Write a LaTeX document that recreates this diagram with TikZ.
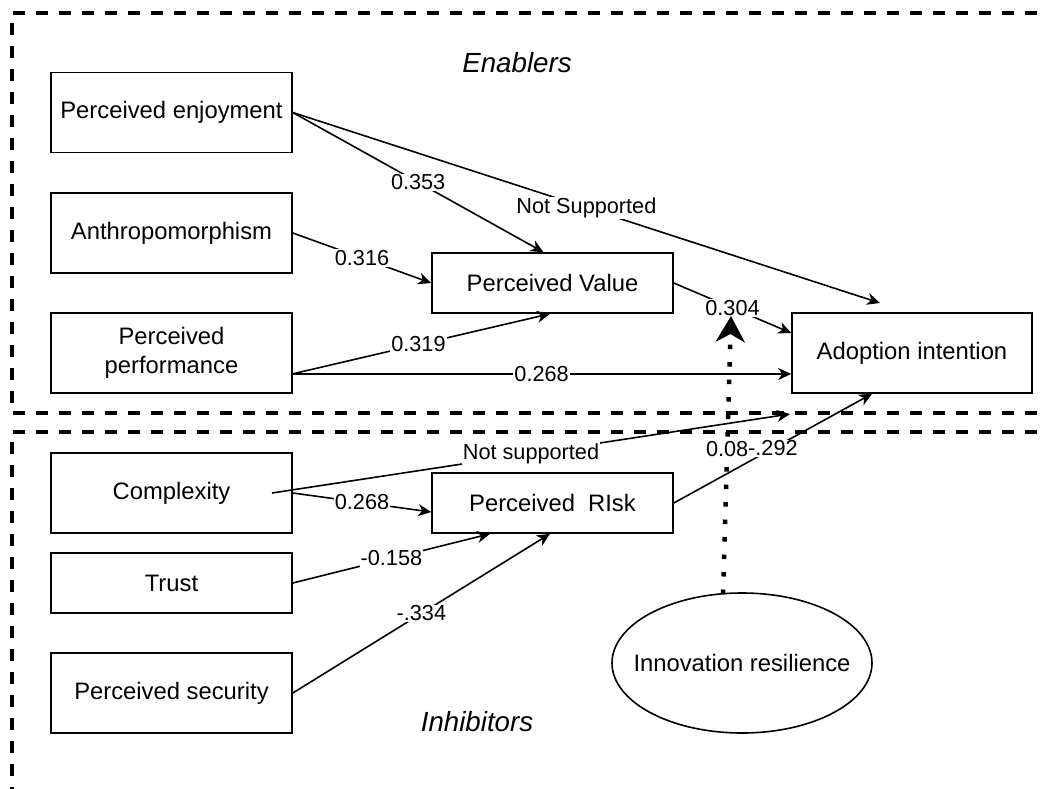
\documentclass[tikz,border=0pt]{standalone}
\usepackage{fontspec}
\setmainfont{Liberation Sans}
\usetikzlibrary{arrows.meta,shapes.geometric,calc}
\begin{document}
\begin{tikzpicture}[x=1pt,y=-1pt,
  construct/.style={draw, line width=1.6pt, minimum width=241pt, minimum height=80pt,
    inner sep=0pt, align=center, font=\fontsize{23.8}{29}\selectfont},
  mediator/.style={construct, minimum height=60pt},
  moderator/.style={ellipse, draw, line width=1.6pt, minimum width=260pt, minimum height=140pt,
    inner sep=0pt, font=\fontsize{23.8}{29}\selectfont},
  link/.style={line width=1.6pt, -{Stealth[length=13pt,width=12pt,inset=4pt]}},
  modlink/.style={line width=4.5pt, dash pattern=on 4.5pt off 13pt,
    -{Stealth[length=26pt,width=29pt,inset=8pt]}},
  wlabel/.style={fill=white, inner sep=1pt, font=\fontsize{21.7}{26}\selectfont},
  frame/.style={line width=3.5pt, dash pattern=on 12pt off 11pt},
  group/.style={font=\fontsize{27.7}{32}\selectfont\itshape}
]
\useasboundingbox (0,0) rectangle (1042,788);

% group frames
\begin{scope}
  \clip (0,0) rectangle (1042,788);
  \draw[frame] (1060,13) -- (12,13) -- (12,413) -- (1060,413);
  \draw[frame] (1060,432) -- (12,432) -- (12,800);
\end{scope}

\node[group] (enab) at (517,63) {Enablers};
\node[group] (inhib) at (477,722) {Inhibitors};

% constructs
\node[construct] (pe) at (171.5,112.5) {Perceived enjoyment};
\node[construct] (an) at (171.5,233) {Anthropomorphism};
\node[construct] (pp) at (171.5,353) {Perceived\\performance};
\node[construct] (cx) at (171.5,493) {Complexity};
\node[construct, minimum height=60pt] (tr) at (171.5,583) {Trust};
\node[construct] (ps) at (171.5,693) {Perceived security};

\node[mediator] (pv) at (552.5,283) {Perceived Value};
\node[mediator] (pr) at (552.5,503) {Perceived\ \ RIsk};
\node[construct, minimum width=240pt] (ai) at (912,353) {Adoption intention};
\node[moderator] (ir) at (742,663) {\makebox[0pt]{Innovation resilience}};

% free ends
\coordinate (aiTop) at (880,303);
\coordinate (ppOut) at (292,374);
\coordinate (cxIn) at (272,493);
\coordinate (aiLow) at (790,414);
\coordinate (irTop) at (723,594);
\coordinate (modTip) at (731,316);

% enablers
\draw[link] (pe.east) -- node[wlabel]{0.353} ($(pv.north)+(-9,0)$);
\draw[link] (pe.east) -- node[wlabel]{Not Supported} (aiTop);
\draw[link] (an.east) -- node[wlabel]{0.316} (pv.west);
\draw[link] (ppOut) -- node[wlabel, pos=0.49]{0.319} ($(pv.south)+(-2.5,0)$);
\draw[link] (ppOut) -- node[wlabel]{0.268} (ai.west |- ppOut);
\draw[link] (pv.east) -- node[wlabel]{0.304} ($(ai.west)+(0,-20)$);

% inhibitors
\draw[link] (cxIn) -- node[wlabel]{Not supported} (aiLow);
\draw[link] (cx.east) -- node[wlabel]{0.268} ($(pr.west)+(0,9)$);
\draw[link] (tr.east) -- node[wlabel]{-0.158} ($(pr.south)+(-62.5,0)$);
\draw[link] (ps.east) -- node[wlabel]{-.334} ($(pr.south)+(-2.5,0)$);

% moderation
\draw[modlink] (irTop) -- node[wlabel, pos=0.52]{0.08} (modTip);
\draw[link] (pr.east) -- node[wlabel]{-.292} ($(ai.south)+(-40,0)$);
\end{tikzpicture}
\end{document}
